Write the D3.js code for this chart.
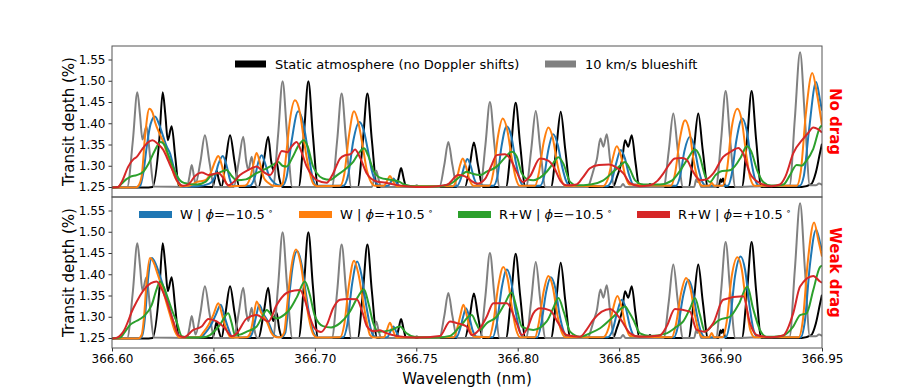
<!DOCTYPE html>
<html>
<head>
<meta charset="utf-8">
<script src="https://cdn.jsdelivr.net/npm/d3@7"></script>
<style>
  body { margin: 0; background: #fff; }
  svg { display: block; font-family: "DejaVu Sans", sans-serif; }
</style>
</head>
<body>
<svg id="chart" width="913" height="392"></svg>
<script>
const wavelengthTicks = [366.60, 366.65, 366.70, 366.75, 366.80, 366.85, 366.90, 366.95];
const depthTicks = [1.25, 1.30, 1.35, 1.40, 1.45, 1.50, 1.55];
const panelNames = ["No drag", "Weak drag"];
const topLegend = ["Static atmosphere (no Doppler shifts)", "10 km/s blueshift"];
const bottomLegend = [["W", "\u2212"], ["W", "+"], ["R+W", "\u2212"], ["R+W", "+"]];

// [wavelength (nm), transit depth (%)]
const staticAtm = [
  [366.600,1.249],[366.6180,1.249],
  [366.6200,1.250],[366.6233,1.36],[366.6250,1.473],[366.6263,1.42],[366.6275,1.360],[366.6294,1.393],[366.6312,1.32],[366.6330,1.251],
  [366.6495,1.250],[366.6506,1.268],[366.6516,1.288],[366.6526,1.268],[366.6540,1.250],
  [366.6560,1.31],[366.6582,1.372],[366.6604,1.31],[366.6628,1.250],
  [366.6722,1.250],[366.6748,1.31],[366.6770,1.368],[366.6785,1.31],[366.6795,1.29],[366.6811,1.31],[366.6825,1.27],[366.6840,1.250],
  [366.6920,1.250],[366.6946,1.374],[366.6968,1.499],[366.6990,1.374],[366.7016,1.250],
  [366.7211,1.250],[366.7237,1.36],[366.7259,1.470],[366.7281,1.36],[366.7307,1.250],
  [366.7400,1.250],[366.7413,1.272],[366.7425,1.295],[366.7437,1.272],[366.7450,1.250],
  [366.7740,1.250],[366.7764,1.302],[366.7784,1.355],[366.7804,1.302],[366.7828,1.250],
  [366.7942,1.250],[366.7968,1.35],[366.7990,1.448],[366.8012,1.35],[366.8038,1.250],
  [366.8164,1.250],[366.8190,1.34],[366.8212,1.427],[366.8234,1.34],[366.8260,1.250],
  [366.8470,1.250],[366.8488,1.272],[366.8502,1.292],[366.8515,1.315],[366.8529,1.360],[366.8545,1.345],[366.8562,1.372],[366.8580,1.31],[366.8600,1.250],
  [366.8640,1.250],[366.8652,1.257],[366.8664,1.250],
  [366.8842,1.250],[366.8868,1.337],[366.8890,1.423],[366.8912,1.337],[366.8938,1.250],
  [366.8990,1.250],[366.9000,1.268],[366.9006,1.262],[366.9012,1.270],[366.9024,1.250],
  [366.9105,1.250],[366.9131,1.363],[366.9153,1.476],[366.9175,1.363],[366.9201,1.250],
  [366.9400,1.250],[366.9445,1.256],[366.9470,1.285],[366.9490,1.330],[366.9500,1.352]
];

const blueshift = [
  [366.600,1.249],[366.6075,1.250],[366.6103,1.36],[366.6125,1.473],[366.6138,1.42],[366.6150,1.362],[366.6170,1.393],[366.6188,1.32],[366.6206,1.251],
  [366.6370,1.250],[366.6382,1.275],[366.6393,1.302],[366.6404,1.275],[366.6412,1.258],
  [366.6436,1.31],[366.6458,1.372],[366.6480,1.31],[366.6504,1.250],
  [366.6600,1.250],[366.6625,1.31],[366.6647,1.368],[366.6662,1.31],[366.6672,1.29],[366.6689,1.321],[366.6702,1.27],[366.6718,1.250],
  [366.6793,1.250],[366.6819,1.374],[366.6841,1.499],[366.6863,1.374],[366.6889,1.250],
  [366.7084,1.250],[366.7110,1.36],[366.7132,1.470],[366.7154,1.36],[366.7180,1.250],
  [366.7280,1.250],[366.7292,1.268],[366.7303,1.288],[366.7314,1.268],[366.7327,1.250],
  [366.7490,1.250],[366.7502,1.254],[366.7514,1.250],
  [366.7614,1.250],[366.7638,1.302],[366.7658,1.356],[366.7678,1.302],[366.7702,1.250],
  [366.7815,1.250],[366.7841,1.35],[366.7863,1.450],[366.7885,1.35],[366.7911,1.250],
  [366.8041,1.250],[366.8067,1.34],[366.8089,1.429],[366.8111,1.34],[366.8137,1.250],
  [366.8345,1.250],[366.8363,1.272],[366.8375,1.292],[366.8390,1.315],[366.8408,1.364],[366.8422,1.345],[366.8439,1.374],[366.8456,1.31],[366.8476,1.250],
  [366.8507,1.250],[366.8519,1.257],[366.8531,1.250],
  [366.8719,1.250],[366.8745,1.337],[366.8767,1.423],[366.8789,1.337],[366.8815,1.250],
  [366.8870,1.250],[366.8880,1.268],[366.8886,1.262],[366.8892,1.270],[366.8904,1.250],
  [366.8977,1.250],[366.9003,1.363],[366.9025,1.476],[366.9047,1.363],[366.9073,1.250],
  [366.9200,1.252],[366.9340,1.253],[366.9366,1.41],[366.9392,1.567],[366.9416,1.41],[366.9440,1.254],
  [366.9470,1.254],[366.9485,1.258],[366.9500,1.255]
];

const noDragWMinus = [
  [366.600,1.249],[366.6120,1.249],
  [366.6138,1.252],[366.6155,1.285],[366.6171,1.344],[366.6190,1.398],[366.6212,1.416],[366.6232,1.398],[366.6253,1.368],[366.6270,1.345],[366.6286,1.329],[366.6305,1.295],[366.6319,1.274],[366.6335,1.256],[366.6350,1.251],
  [366.6420,1.252],[366.6480,1.258],[366.6505,1.272],[366.6525,1.305],[366.6546,1.323],[366.6565,1.300],[366.6585,1.262],[366.6605,1.252],
  [366.6680,1.253],[366.6705,1.275],[366.6722,1.310],[366.6738,1.325],[366.6755,1.305],[366.6775,1.275],[366.6795,1.262],[366.6815,1.255],
  [366.6840,1.253],[366.6861,1.274],[366.6886,1.360],[366.6918,1.428],[366.6943,1.400],[366.6968,1.329],[366.6992,1.266],[366.7010,1.253],
  [366.7140,1.253],[366.7165,1.280],[366.7190,1.360],[366.7219,1.403],[366.7240,1.385],[366.7260,1.340],[366.7280,1.290],[366.7300,1.262],[366.7320,1.253],
  [366.7360,1.253],[366.7375,1.262],[366.7387,1.270],[366.7400,1.262],[366.7420,1.252],
  [366.7700,1.252],[366.7720,1.270],[366.7737,1.300],[366.7752,1.316],[366.7768,1.300],[366.7785,1.270],[366.7805,1.254],
  [366.7880,1.253],[366.7900,1.275],[366.7920,1.345],[366.7946,1.393],[366.7968,1.370],[366.7990,1.310],[366.8010,1.268],[366.8030,1.253],
  [366.8110,1.253],[366.8130,1.275],[366.8150,1.335],[366.8175,1.374],[366.8197,1.350],[366.8218,1.300],[366.8238,1.265],[366.8258,1.253],
  [366.8440,1.252],[366.8465,1.268],[366.8485,1.305],[366.8508,1.337],[366.8528,1.318],[366.8548,1.280],[366.8570,1.256],
  [366.8780,1.253],[366.8800,1.275],[366.8822,1.335],[366.8849,1.368],[366.8870,1.345],[366.8890,1.295],[366.8910,1.262],[366.8930,1.253],
  [366.9035,1.253],[366.9055,1.280],[366.9078,1.360],[366.9107,1.411],[366.9128,1.385],[366.9150,1.315],[366.9170,1.268],[366.9190,1.253],
  [366.9390,1.253],[366.9410,1.275],[366.9435,1.380],[366.9471,1.497],[366.9490,1.455],[366.9500,1.430]
];

const noDragWPlus = [
  [366.600,1.249],[366.6115,1.249],
  [366.6128,1.252],[366.6146,1.275],[366.6163,1.370],[366.6184,1.434],[366.6200,1.425],[366.6212,1.403],[366.6235,1.375],[366.6253,1.356],[366.6270,1.330],[366.6286,1.309],[366.6305,1.280],[366.6319,1.266],[366.6340,1.252],
  [366.6380,1.253],[366.6420,1.262],[366.6460,1.266],[366.6488,1.285],[366.6508,1.310],[366.6524,1.323],[366.6542,1.300],[366.6560,1.262],[366.6580,1.252],
  [366.6655,1.253],[366.6680,1.270],[366.6698,1.305],[366.6713,1.330],[366.6730,1.305],[366.6748,1.272],[366.6770,1.260],[366.6795,1.253],
  [366.6825,1.252],[366.6841,1.258],[366.6861,1.337],[366.6877,1.407],[366.6902,1.454],[366.6927,1.423],[366.6946,1.360],[366.6968,1.298],[366.6992,1.258],[366.7010,1.252],
  [366.7125,1.253],[366.7145,1.280],[366.7168,1.370],[366.7193,1.428],[366.7215,1.400],[366.7239,1.337],[366.7256,1.290],[366.7272,1.266],[366.7295,1.253],
  [366.7340,1.253],[366.7358,1.266],[366.7370,1.276],[366.7385,1.264],[366.7405,1.252],
  [366.7680,1.252],[366.7700,1.270],[366.7715,1.300],[366.7729,1.317],[366.7745,1.298],[366.7762,1.268],[366.7782,1.253],
  [366.7860,1.253],[366.7880,1.285],[366.7903,1.370],[366.7926,1.411],[366.7948,1.385],[366.7970,1.320],[366.7990,1.272],[366.8010,1.253],
  [366.8085,1.253],[366.8105,1.285],[366.8128,1.355],[366.8151,1.390],[366.8173,1.365],[366.8195,1.305],[366.8215,1.266],[366.8235,1.253],
  [366.8420,1.252],[366.8445,1.270],[366.8465,1.310],[366.8488,1.346],[366.8508,1.325],[366.8528,1.280],[366.8550,1.256],
  [366.8755,1.253],[366.8775,1.280],[366.8800,1.365],[366.8825,1.407],[366.8847,1.380],[366.8868,1.310],[366.8888,1.268],[366.8910,1.253],
  [366.8945,1.253],[366.8956,1.260],[366.8968,1.253],
  [366.9010,1.253],[366.9030,1.285],[366.9055,1.390],[366.9083,1.434],[366.9105,1.405],[366.9127,1.325],[366.9147,1.270],[366.9168,1.253],
  [366.9375,1.253],[366.9395,1.285],[366.9420,1.420],[366.9452,1.518],[366.9475,1.470],[366.9500,1.395]
];

const noDragRWMinus = [
  [366.600,1.249],[366.6030,1.250],[366.6048,1.258],[366.6070,1.268],[366.6089,1.274],[366.6122,1.278],[366.6154,1.286],[366.6180,1.305],[366.6210,1.335],[366.6240,1.356],[366.6260,1.348],[366.6278,1.325],[366.6300,1.298],[366.6319,1.278],[366.6344,1.262],[366.6370,1.258],[366.6420,1.256],[366.6460,1.262],[366.6491,1.278],[366.6520,1.282],[366.6565,1.290],[366.6590,1.276],[366.6615,1.266],[366.6660,1.268],[366.6710,1.282],[366.6763,1.294],[366.6800,1.304],[366.6820,1.309],[366.6840,1.300],[366.6861,1.298],[366.6890,1.320],[366.6920,1.348],[366.6946,1.360],[366.6965,1.345],[366.6990,1.300],[366.7009,1.283],[366.7040,1.270],[366.7075,1.267],[366.7110,1.278],[366.7150,1.292],[366.7190,1.310],[366.7220,1.332],[366.7242,1.341],[366.7262,1.325],[366.7290,1.288],[366.7321,1.272],[366.7370,1.267],[366.7410,1.264],[366.7440,1.256],[366.7500,1.251],[366.7600,1.251],[366.7666,1.257],[366.7715,1.274],[366.7748,1.286],[366.7773,1.282],[366.7814,1.278],[366.7847,1.286],[366.7896,1.298],[366.7935,1.318],[366.7970,1.333],[366.7995,1.322],[366.8020,1.282],[366.8050,1.268],[366.8077,1.266],[366.8110,1.272],[366.8143,1.286],[366.8175,1.306],[366.8200,1.320],[366.8225,1.305],[366.8258,1.262],[366.8290,1.254],[366.8360,1.256],[366.8420,1.265],[366.8471,1.286],[366.8500,1.298],[366.8529,1.309],[366.8550,1.295],[366.8580,1.265],[366.8620,1.256],[366.8700,1.256],[366.8760,1.265],[366.8800,1.288],[366.8840,1.318],[366.8874,1.338],[366.8895,1.325],[366.8925,1.275],[366.8948,1.262],[366.8975,1.278],[366.8997,1.286],[366.9050,1.290],[366.9100,1.320],[366.9129,1.346],[366.9150,1.335],[366.9180,1.290],[366.9210,1.262],[366.9250,1.253],[366.9310,1.256],[366.9342,1.278],[366.9375,1.302],[366.9400,1.300],[366.9420,1.310],[366.9457,1.340],[366.9490,1.390],[366.9500,1.395]
];

const noDragRWPlus = [
  [366.600,1.249],[366.6030,1.250],[366.6048,1.262],[366.6080,1.298],[366.6105,1.315],[366.6122,1.321],[366.6150,1.340],[366.6175,1.354],[366.6199,1.360],[366.6225,1.352],[366.6253,1.337],[366.6270,1.320],[366.6286,1.302],[366.6305,1.282],[366.6319,1.266],[366.6351,1.253],[366.6376,1.256],[366.6410,1.276],[366.6442,1.284],[366.6480,1.278],[366.6524,1.283],[366.6550,1.270],[366.6573,1.254],[366.6600,1.262],[366.6631,1.278],[366.6670,1.290],[366.6713,1.298],[366.6745,1.286],[366.6779,1.278],[366.6810,1.305],[366.6837,1.335],[366.6865,1.332],[366.6885,1.345],[366.6910,1.356],[366.6932,1.335],[366.6960,1.298],[366.6990,1.275],[366.7009,1.266],[366.7058,1.260],[366.7090,1.282],[366.7124,1.317],[366.7150,1.325],[366.7175,1.327],[366.7198,1.338],[366.7222,1.320],[366.7256,1.282],[366.7305,1.263],[366.7350,1.260],[366.7400,1.255],[366.7450,1.252],[366.7550,1.250],[366.7650,1.255],[366.7707,1.278],[366.7740,1.275],[366.7770,1.265],[366.7800,1.258],[366.7840,1.270],[366.7870,1.300],[366.7896,1.325],[366.7937,1.327],[366.7965,1.315],[366.7995,1.285],[366.8025,1.262],[366.8060,1.275],[366.8110,1.317],[366.8150,1.312],[366.8180,1.295],[366.8210,1.265],[366.8240,1.254],[366.8290,1.256],[366.8320,1.272],[366.8356,1.294],[366.8400,1.302],[366.8450,1.303],[366.8480,1.298],[366.8521,1.282],[366.8554,1.259],[366.8600,1.252],[366.8650,1.254],[366.8690,1.265],[366.8718,1.282],[366.8750,1.305],[366.8775,1.317],[366.8810,1.318],[366.8833,1.314],[366.8860,1.290],[366.8899,1.266],[366.8930,1.268],[366.8964,1.282],[366.9013,1.321],[366.9050,1.333],[366.9087,1.342],[366.9110,1.330],[366.9145,1.282],[366.9194,1.259],[366.9250,1.252],[366.9293,1.256],[366.9320,1.275],[366.9358,1.329],[366.9408,1.364],[366.9430,1.376],[366.9457,1.390],[366.9480,1.386],[366.9500,1.378]
];

const weakDragWMinus = [
  [366.600,1.249],[366.6135,1.249],
  [366.6150,1.257],[366.6163,1.300],[366.6176,1.380],[366.6196,1.438],[366.6215,1.425],[366.6235,1.398],[366.6260,1.360],[366.6278,1.330],[366.6295,1.300],[366.6320,1.262],[366.6342,1.251],
  [366.6440,1.252],[366.6460,1.262],[366.6485,1.278],[366.6512,1.305],[366.6536,1.328],[366.6555,1.300],[366.6568,1.280],[366.6592,1.253],[366.6610,1.251],
  [366.6675,1.252],[366.6690,1.260],[366.6710,1.300],[366.6726,1.328],[366.6745,1.308],[366.6772,1.286],[366.6795,1.260],[366.6818,1.252],
  [366.6836,1.252],[366.6854,1.262],[366.6872,1.340],[366.6888,1.410],[366.6913,1.455],[366.6936,1.420],[366.6956,1.355],[366.6976,1.295],[366.6998,1.258],[366.7015,1.251],
  [366.7140,1.252],[366.7160,1.282],[366.7183,1.375],[366.7209,1.430],[366.7230,1.398],[366.7252,1.330],[366.7268,1.288],[366.7285,1.258],[366.7305,1.251],
  [366.7357,1.252],[366.7373,1.266],[366.7387,1.277],[366.7402,1.264],[366.7420,1.251],
  [366.7698,1.252],[366.7716,1.272],[366.7731,1.300],[366.7745,1.320],[366.7761,1.300],[366.7778,1.268],[366.7798,1.253],
  [366.7877,1.252],[366.7897,1.285],[366.7922,1.370],[366.7946,1.411],[366.7967,1.385],[366.7989,1.315],[366.8009,1.268],[366.8029,1.252],
  [366.8097,1.252],[366.8117,1.286],[366.8140,1.358],[366.8163,1.393],[366.8185,1.368],[366.8207,1.303],[366.8227,1.265],[366.8247,1.252],
  [366.8444,1.252],[366.8469,1.270],[366.8490,1.310],[366.8513,1.340],[366.8533,1.320],[366.8553,1.278],[366.8575,1.255],
  [366.8771,1.252],[366.8791,1.280],[366.8816,1.350],[366.8841,1.387],[366.8863,1.360],[366.8884,1.302],[366.8904,1.264],[366.8926,1.252],
  [366.9026,1.252],[366.9046,1.288],[366.9071,1.395],[366.9099,1.442],[366.9121,1.410],[366.9143,1.325],[366.9163,1.268],[366.9184,1.252],
  [366.9395,1.252],[366.9415,1.288],[366.9440,1.420],[366.9471,1.505],[366.9490,1.475],[366.9500,1.455]
];

const weakDragWPlus = [
  [366.600,1.249],[366.6130,1.249],
  [366.6146,1.257],[366.6158,1.300],[366.6170,1.380],[366.6187,1.438],[366.6205,1.428],[366.6225,1.400],[366.6253,1.359],[366.6270,1.330],[366.6286,1.304],[366.6311,1.265],[366.6335,1.251],
  [366.6430,1.252],[366.6450,1.263],[366.6475,1.280],[366.6500,1.305],[366.6524,1.332],[366.6545,1.300],[366.6557,1.280],[366.6582,1.253],[366.6600,1.251],
  [366.6665,1.252],[366.6680,1.260],[366.6698,1.300],[366.6713,1.336],[366.6735,1.310],[366.6763,1.289],[366.6787,1.261],[366.6810,1.252],
  [366.6830,1.252],[366.6848,1.262],[366.6866,1.340],[366.6882,1.410],[366.6907,1.458],[366.6930,1.425],[366.6950,1.360],[366.6970,1.298],[366.6993,1.258],[366.7010,1.251],
  [366.7125,1.252],[366.7145,1.282],[366.7168,1.375],[366.7193,1.432],[366.7215,1.400],[366.7239,1.332],[366.7255,1.290],[366.7272,1.257],[366.7292,1.251],
  [366.7340,1.252],[366.7356,1.270],[366.7370,1.286],[366.7385,1.268],[366.7403,1.251],
  [366.7685,1.252],[366.7703,1.275],[366.7718,1.305],[366.7732,1.328],[366.7748,1.305],[366.7765,1.270],[366.7785,1.253],
  [366.7860,1.252],[366.7880,1.288],[366.7905,1.375],[366.7929,1.417],[366.7950,1.390],[366.7972,1.320],[366.7992,1.270],[366.8012,1.252],
  [366.8085,1.252],[366.8105,1.288],[366.8128,1.360],[366.8151,1.396],[366.8173,1.370],[366.8195,1.305],[366.8215,1.266],[366.8235,1.252],
  [366.8422,1.252],[366.8447,1.272],[366.8468,1.315],[366.8491,1.349],[366.8511,1.325],[366.8531,1.280],[366.8553,1.255],
  [366.8760,1.252],[366.8780,1.282],[366.8805,1.355],[366.8830,1.391],[366.8852,1.365],[366.8873,1.305],[366.8893,1.265],[366.8915,1.252],
  [366.8944,1.252],[366.8956,1.262],[366.8968,1.252],
  [366.9010,1.252],[366.9030,1.288],[366.9055,1.395],[366.9083,1.440],[366.9105,1.410],[366.9127,1.325],[366.9147,1.268],[366.9168,1.252],
  [366.9385,1.252],[366.9405,1.290],[366.9430,1.430],[366.9461,1.522],[366.9482,1.480],[366.9500,1.442]
];

const weakDragRWMinus = [
  [366.600,1.249],[366.6040,1.251],[366.6060,1.262],[366.6089,1.281],[366.6120,1.290],[366.6154,1.300],[366.6196,1.328],[366.6220,1.365],[366.6237,1.383],[366.6255,1.370],[366.6278,1.340],[366.6300,1.310],[366.6319,1.288],[366.6344,1.254],[366.6380,1.251],[366.6450,1.252],[366.6483,1.257],[366.6532,1.281],[366.6573,1.308],[366.6590,1.285],[366.6606,1.257],[366.6630,1.258],[366.6664,1.265],[366.6713,1.277],[366.6740,1.300],[366.6763,1.316],[366.6790,1.302],[366.6812,1.296],[366.6850,1.305],[366.6877,1.318],[366.6910,1.345],[366.6951,1.383],[366.6975,1.352],[366.7000,1.302],[366.7040,1.278],[366.7080,1.275],[366.7124,1.285],[366.7170,1.310],[366.7210,1.345],[366.7242,1.365],[366.7265,1.330],[366.7288,1.285],[366.7313,1.265],[366.7370,1.268],[366.7420,1.277],[366.7450,1.262],[366.7500,1.252],[366.7600,1.251],[366.7666,1.255],[366.7715,1.277],[366.7773,1.304],[366.7795,1.285],[366.7814,1.269],[366.7847,1.285],[366.7896,1.300],[366.7935,1.330],[366.7970,1.357],[366.7995,1.320],[366.8020,1.277],[366.8077,1.269],[366.8143,1.289],[366.8175,1.320],[366.8200,1.344],[366.8228,1.310],[366.8258,1.265],[366.8307,1.253],[366.8360,1.262],[366.8406,1.273],[366.8471,1.300],[366.8529,1.324],[366.8550,1.310],[366.8570,1.293],[366.8603,1.261],[366.8650,1.255],[366.8734,1.261],[366.8784,1.277],[366.8816,1.289],[366.8850,1.320],[366.8874,1.344],[366.8898,1.305],[366.8923,1.265],[366.8960,1.280],[366.8997,1.293],[366.9046,1.300],[366.9090,1.330],[366.9132,1.371],[366.9160,1.320],[366.9194,1.269],[366.9227,1.253],[366.9300,1.255],[366.9358,1.277],[366.9392,1.304],[366.9424,1.308],[366.9457,1.363],[366.9490,1.417],[366.9500,1.420]
];

const weakDragRWPlus = [
  [366.600,1.249],[366.6025,1.251],[366.6056,1.265],[366.6105,1.320],[366.6163,1.367],[366.6220,1.383],[366.6245,1.365],[366.6270,1.336],[366.6302,1.289],[366.6327,1.257],[366.6355,1.252],[366.6401,1.269],[366.6442,1.277],[366.6475,1.295],[366.6516,1.289],[366.6557,1.273],[366.6590,1.254],[366.6615,1.261],[366.6664,1.296],[366.6713,1.304],[366.6771,1.289],[366.6812,1.328],[366.6861,1.356],[366.6900,1.362],[366.6927,1.363],[366.6950,1.340],[366.6975,1.300],[366.7000,1.272],[366.7030,1.264],[366.7060,1.282],[366.7090,1.320],[366.7124,1.340],[366.7160,1.342],[366.7206,1.341],[366.7235,1.310],[366.7256,1.278],[366.7290,1.266],[366.7321,1.268],[366.7350,1.262],[366.7400,1.255],[366.7500,1.251],[366.7617,1.255],[366.7666,1.289],[366.7699,1.285],[366.7748,1.277],[366.7773,1.257],[366.7810,1.270],[366.7847,1.300],[366.7880,1.332],[366.7946,1.332],[366.7995,1.285],[366.8020,1.257],[366.8050,1.275],[366.8077,1.308],[366.8110,1.320],[366.8159,1.315],[366.8200,1.285],[366.8241,1.257],[366.8307,1.253],[366.8340,1.270],[366.8373,1.293],[366.8455,1.318],[366.8504,1.296],[366.8554,1.261],[366.8600,1.253],[366.8700,1.256],[366.8734,1.277],[366.8775,1.318],[366.8849,1.312],[366.8882,1.269],[366.8920,1.265],[366.8964,1.285],[366.9013,1.340],[366.9112,1.348],[366.9145,1.285],[366.9178,1.257],[366.9250,1.252],[366.9308,1.256],[366.9358,1.308],[366.9392,1.371],[366.9457,1.396],[366.9490,1.383],[366.9500,1.380]
];

const colors = { black: "#000000", gray: "#808080", blue: "#1f77b4", orange: "#ff7f0e", green: "#2ca02c", red: "#d62728" };

const margin = { left: 112, right: 91, top: 46 };
const panelH = 151;
const plotW = 913 - margin.left - margin.right;

const svg = d3.select("#chart");
svg.append("rect").attr("width", 913).attr("height", 392).attr("fill", "#fff");

const x = d3.scaleLinear().domain([366.60, 366.95]).range([margin.left, margin.left + plotW]);

const panels = [
  { name: panelNames[0], series: [
    [staticAtm, colors.black], [blueshift, colors.gray],
    [noDragWMinus, colors.blue], [noDragWPlus, colors.orange],
    [noDragRWMinus, colors.green], [noDragRWPlus, colors.red]] },
  { name: panelNames[1], series: [
    [staticAtm, colors.black], [blueshift, colors.gray],
    [weakDragWMinus, colors.blue], [weakDragWPlus, colors.orange],
    [weakDragRWMinus, colors.green], [weakDragRWPlus, colors.red]] }
];

panels.forEach((p, i) => {
  const top = margin.top + i * panelH;
  const y = d3.scaleLinear().domain([1.2265, 1.5818]).range([top + panelH, top]);
  const g = svg.append("g");

  g.append("clipPath").attr("id", "clip" + i)
    .append("rect").attr("x", margin.left).attr("y", top).attr("width", plotW).attr("height", panelH);

  const line = d3.line()
    .x(d => x(d[0]))
    .y(d => y(d[1]))
    .curve(d3.curveMonotoneX);

  const lines = g.append("g").attr("clip-path", `url(#clip${i})`);
  p.series.forEach(([data, color]) => {
    lines.append("path")
      .attr("d", line(data))
      .attr("fill", "none")
      .attr("stroke", color)
      .attr("stroke-width", 2)
      .attr("stroke-linejoin", "round");
  });

  const yAxis = g.append("g")
    .attr("transform", `translate(${margin.left},0)`)
    .call(d3.axisLeft(y).tickValues(depthTicks).tickFormat(d3.format(".2f")).tickSize(3.5).tickSizeOuter(0));
  yAxis.select(".domain").remove();
  yAxis.selectAll("line").attr("stroke", "#333");
  yAxis.selectAll("text").attr("font-size", 12).attr("font-family", "DejaVu Sans").attr("fill", "#000");

  if (i === 1) {
    const xAxis = g.append("g")
      .attr("transform", `translate(0,${top + panelH})`)
      .call(d3.axisBottom(x).tickValues(wavelengthTicks).tickFormat(d3.format(".2f")).tickSize(3.5).tickSizeOuter(0));
    xAxis.select(".domain").remove();
    xAxis.selectAll("line").attr("stroke", "#333");
    xAxis.selectAll("text").attr("font-size", 12).attr("font-family", "DejaVu Sans").attr("fill", "#000");
  }

  g.append("rect")
    .attr("x", margin.left).attr("y", top).attr("width", plotW).attr("height", panelH)
    .attr("fill", "none").attr("stroke", "#555").attr("stroke-width", 1);

  g.append("text")
    .attr("transform", `translate(74,${top + panelH / 2}) rotate(-90)`)
    .attr("text-anchor", "middle")
    .attr("font-size", 15)
    .text("Transit depth (%)");

  g.append("text")
    .attr("transform", `translate(830,${top + panelH / 2}) rotate(90)`)
    .attr("text-anchor", "middle")
    .attr("font-size", 15)
    .attr("font-weight", "bold")
    .attr("fill", "#ff0000")
    .text(p.name);
});

// top legend
const topLeg = svg.append("g");
[[235, colors.black, 275], [545, colors.gray, 585]].forEach(([lx, c, tx], k) => {
  topLeg.append("line").attr("x1", lx).attr("x2", lx + 31).attr("y1", 64).attr("y2", 64)
    .attr("stroke", c).attr("stroke-width", 7);
  topLeg.append("text").attr("x", tx).attr("y", 69).attr("font-size", 13).text(topLegend[k]);
});

// bottom legend
const botLeg = svg.append("g");
const legColors = [colors.blue, colors.orange, colors.green, colors.red];
const legX = [139, 299, 458, 637];
bottomLegend.forEach(([model, sign], k) => {
  botLeg.append("line").attr("x1", legX[k]).attr("x2", legX[k] + 33).attr("y1", 214.5).attr("y2", 214.5)
    .attr("stroke", legColors[k]).attr("stroke-width", 7);
  const t = botLeg.append("text").attr("x", legX[k] + 41).attr("y", 219).attr("font-size", 13);
  t.append("tspan").text(model + " | ");
  t.append("tspan").attr("font-style", "italic").text("\u03d5");
  t.append("tspan").text("=" + sign + "10.5");
  t.append("tspan").attr("font-size", 9).attr("dx", 3).attr("dy", -5).text("\u2218");
});

svg.append("text")
  .attr("x", margin.left + plotW / 2).attr("y", 384)
  .attr("text-anchor", "middle")
  .attr("font-size", 15)
  .text("Wavelength (nm)");
</script>
</body>
</html>
